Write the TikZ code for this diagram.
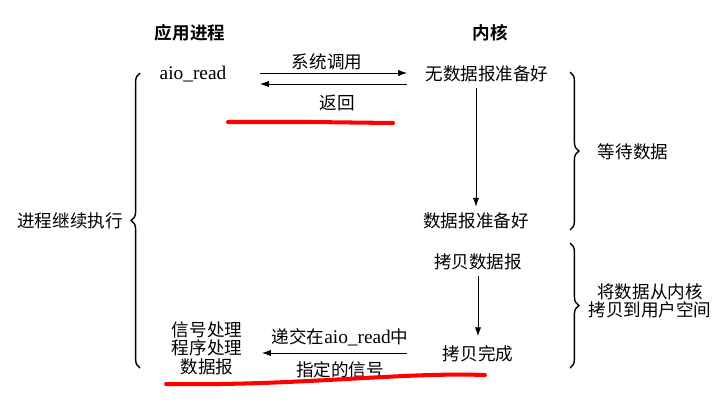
\documentclass[tikz,border=0pt]{standalone}
\usepackage{fontspec}
\setmainfont{Noto Sans CJK SC}[BoldFont={Noto Sans CJK SC Bold}]
\newfontfamily\lat{Liberation Serif}
\usetikzlibrary{arrows.meta,decorations.pathreplacing}

\begin{document}
\begin{tikzpicture}[x=0.02cm, y=-0.02cm, font=\fontsize{10}{10.5}\selectfont,
    brace/.style={decorate, decoration={brace, amplitude=5pt}, thick},
    redmark/.style={red, line width=2.3pt, line cap=round}]
        \useasboundingbox (0,0) rectangle (726,403);

        % column titles
        \node (app) [font=\fontsize{10}{12}\selectfont\bfseries] at (190,33) {应用进程};
        \node (kernel) [font=\fontsize{10}{12}\selectfont\bfseries] at (490,33) {内核};

        % application side
        \node (read) at (193,74) {\lat\fontsize{11}{12}\selectfont aio\_read};
        \node (handler) [align=center] at (207,348) {信号处理\\程序处理\\数据报};
        \node (cont) at (70,221) {进程继续执行};

        % kernel side
        \node (nodata) at (487,74) {无数据报准备好};
        \node (ready) at (476,221) {数据报准备好};
        \node (copy) at (478,262) {拷贝数据报};
        \node (done) at (478,354) {拷贝完成};

        \node (wait) at (633,152) {等待数据};
        \node (move) [align=center] at (650,301) {将数据从内核\\拷贝到用户空间};

        % arrow labels
        \node (call) at (327,62) {系统调用};
        \node (ret) at (337,103) {返回};
        \node (deliver) at (340,337) {递交在{\lat\fontsize{11}{12}\selectfont aio\_read}中};
        \node (signal) at (340,370) {指定的信号};

        % arrow ends
        \coordinate (callL) at (260,73);
        \coordinate (callR) at (407,73);
        \coordinate (retL) at (260,84);
        \coordinate (retR) at (407,84);
        \coordinate (sigL) at (262,353);
        \coordinate (sigR) at (407,353);

        \draw[-{Latex[length=5pt,width=3.5pt]}] (callL) -- (callR);
        \draw[-{Latex[length=5pt,width=3.5pt]}] (retR) -- (retL);
        \draw[-{Latex[length=5pt,width=3.5pt]}] (ready.north |- nodata.south) -- (ready.north);
        \draw[-{Latex[length=5pt,width=3.5pt]}] (copy.south) -- ([yshift=2pt]done.north);
        \draw[-{Latex[length=5pt,width=3.5pt]}] (sigR) -- (sigL);

        % braces
        \draw[brace] (140,368) -- (140,73);
        \draw[brace] (570,72) -- (570,230);
        \draw[brace] (570,243) -- (570,368);

        % red marks
        \draw[redmark] (228,122) -- (310,122) -- (393,123);
        \draw[redmark] (166,384) .. controls (300,386) and (400,372) .. (485,375);
\end{tikzpicture}
\end{document}
